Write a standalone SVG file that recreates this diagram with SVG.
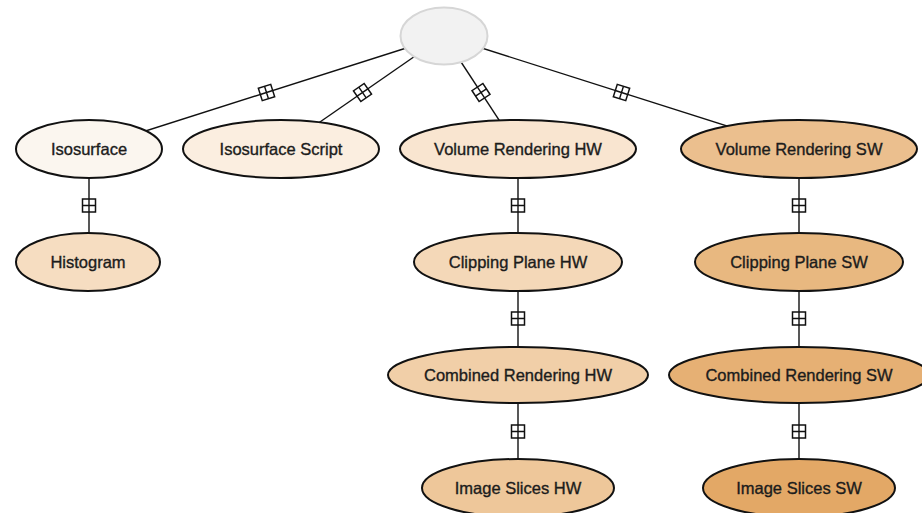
<svg xmlns="http://www.w3.org/2000/svg" xmlns:xlink="http://www.w3.org/1999/xlink" width="922" height="513" viewBox="0 0 922 513">
  <style>
    .edge { stroke: #111; stroke-width: 1.4; fill: none; }
    .node ellipse { stroke: #111; stroke-width: 2; }
    .node text { font-family: "Liberation Sans", Arial, sans-serif; font-size: 16.5px; fill: #1c1c1c; stroke: #1c1c1c; stroke-width: 0.35; text-anchor: middle; dominant-baseline: central; }
    .knob rect { fill: #fff; stroke: #111; stroke-width: 1.5; }
    .knob path { stroke: #111; stroke-width: 1.4; fill: none; }
  </style>
  <defs>
    <!-- expand/collapse toggle drawn on each link -->
    <g id="toggle" class="knob">
      <rect x="-6.5" y="-6.5" width="13" height="13"/>
      <path d="M-6.5 0H6.5M0 -6.5V6.5"/>
    </g>
  </defs>
  <rect width="922" height="513" fill="#fff"/>

  <g id="connectors">
    <line class="edge" x1="444" y1="36" x2="89" y2="149"/>
    <line class="edge" x1="444" y1="36" x2="281" y2="149"/>
    <line class="edge" x1="444" y1="36" x2="518" y2="149"/>
    <line class="edge" x1="444" y1="36" x2="799" y2="149"/>
    <line class="edge" x1="89" y1="149" x2="89" y2="262"/>
    <line class="edge" x1="518" y1="149" x2="518" y2="488"/>
    <line class="edge" x1="799" y1="149" x2="799" y2="488"/>
    <use xlink:href="#toggle" transform="translate(266.5 92.5) rotate(-17.66)"/>
    <use xlink:href="#toggle" transform="translate(362.5 92.5) rotate(-34.7)"/>
    <use xlink:href="#toggle" transform="translate(481 92.5) rotate(56.8)"/>
    <use xlink:href="#toggle" transform="translate(621.5 92.5) rotate(17.66)"/>
    <use xlink:href="#toggle" transform="translate(89 205.5)"/>
    <use xlink:href="#toggle" transform="translate(518 205.5)"/>
    <use xlink:href="#toggle" transform="translate(518 318.5)"/>
    <use xlink:href="#toggle" transform="translate(518 431.5)"/>
    <use xlink:href="#toggle" transform="translate(799 205.5)"/>
    <use xlink:href="#toggle" transform="translate(799 318.5)"/>
    <use xlink:href="#toggle" transform="translate(799 431.5)"/>
  </g>

  <g id="root">
    <ellipse cx="444" cy="36" rx="43.5" ry="28.5" fill="#f2f2f2" stroke="#d6d6d6" stroke-width="2"/>
  </g>

  <g id="isosurface" class="node">
    <ellipse cx="89" cy="149" rx="73" ry="29" fill="#fbf6ef"/>
    <text x="89" y="149">Isosurface</text>
  </g>
  <g id="isosurface-script" class="node">
    <ellipse cx="281" cy="149" rx="98" ry="29" fill="#fbeee0"/>
    <text x="281" y="149">Isosurface Script</text>
  </g>
  <g id="volume-rendering-hw" class="node">
    <ellipse cx="518" cy="149" rx="118" ry="29" fill="#f9e5d0"/>
    <text x="518" y="149">Volume Rendering HW</text>
  </g>
  <g id="volume-rendering-sw" class="node">
    <ellipse cx="799" cy="149" rx="118" ry="29" fill="#ebbf8e"/>
    <text x="799" y="149">Volume Rendering SW</text>
  </g>
  <g id="histogram" class="node">
    <ellipse cx="88" cy="262" rx="72" ry="29" fill="#f6ddc1"/>
    <text x="88" y="262">Histogram</text>
  </g>
  <g id="clipping-plane-hw" class="node">
    <ellipse cx="518" cy="262" rx="104" ry="29" fill="#f4d8b8"/>
    <text x="518" y="262">Clipping Plane HW</text>
  </g>
  <g id="clipping-plane-sw" class="node">
    <ellipse cx="799" cy="262" rx="104" ry="29" fill="#e8b880"/>
    <text x="799" y="262">Clipping Plane SW</text>
  </g>
  <g id="combined-rendering-hw" class="node">
    <ellipse cx="518" cy="375" rx="130" ry="28" fill="#f1cfa8"/>
    <text x="518" y="375">Combined Rendering HW</text>
  </g>
  <g id="combined-rendering-sw" class="node">
    <ellipse cx="799" cy="375" rx="130" ry="28" fill="#e6b074"/>
    <text x="799" y="375">Combined Rendering SW</text>
  </g>
  <g id="image-slices-hw" class="node">
    <ellipse cx="518" cy="488" rx="96" ry="29" fill="#eec79a"/>
    <text x="518" y="488">Image Slices HW</text>
  </g>
  <g id="image-slices-sw" class="node">
    <ellipse cx="799" cy="488" rx="96" ry="29" fill="#e3a866"/>
    <text x="799" y="488">Image Slices SW</text>
  </g>
</svg>
